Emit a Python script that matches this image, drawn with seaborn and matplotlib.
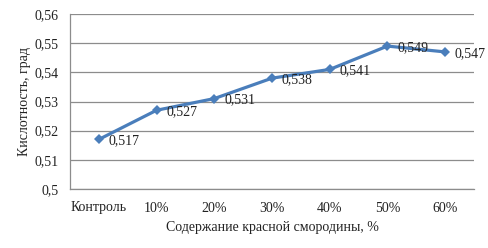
import matplotlib
matplotlib.use("Agg")
import matplotlib.pyplot as plt
import seaborn as sns
import pandas as pd

categories = ["Контроль", "10%", "20%", "30%", "40%", "50%", "60%"]
values = [0.517, 0.527, 0.531, 0.538, 0.541, 0.549, 0.547]
value_labels = ["0,517", "0,527", "0,531", "0,538", "0,541", "0,549", "0,547"]
yticks = [0.5, 0.51, 0.52, 0.53, 0.54, 0.55, 0.56]
ytick_labels = ["0,5", "0,51", "0,52", "0,53", "0,54", "0,55", "0,56"]

sns.set_theme(style="white")
plt.rcParams['font.family'] = ['Liberation Serif', 'DejaVu Serif']

df = pd.DataFrame({"cat": categories, "val": values, "x": range(len(categories))})

fig = plt.figure(figsize=(4.89, 2.48), dpi=100)
ax = fig.add_axes([70/489, 1 - 189/248, (474-70)/489, (189-14)/248])

sns.lineplot(data=df, x="x", y="val", ax=ax, color="#4a7ebb", linewidth=2.3,
             marker="D", markersize=5.5, markeredgewidth=0, sort=False)

for xi, v, lab in zip(df["x"], values, value_labels):
    ax.annotate(lab, (xi, v), xytext=(7, -1), textcoords="offset points",
                ha="left", va="center", fontsize=10, color="#222222")

ax.set_xlim(-0.5, len(categories) - 0.5)
ax.set_ylim(0.5, 0.56)
ax.set_yticks(yticks)
ax.set_yticklabels(ytick_labels, fontsize=10, color="#222222")
ax.set_xticks(range(len(categories)))
ax.set_xticklabels(categories, fontsize=10, color="#222222")
ax.tick_params(axis="y", length=0, pad=8)
ax.tick_params(axis="x", length=0, pad=9)
ax.grid(axis="y", color="#8c8c8c", linewidth=0.9)
ax.set_axisbelow(True)
for s in ["top", "right"]:
    ax.spines[s].set_visible(False)
for s in ["left", "bottom"]:
    ax.spines[s].set_color("#8c8c8c")
    ax.spines[s].set_linewidth(0.9)

ax.set_xlabel("Содержание красной смородины, %", fontsize=10, color="#222222", labelpad=5)
ax.set_ylabel("Кислотность, град", fontsize=10, color="#222222", labelpad=3)

fig.savefig("out.png", dpi=100)
